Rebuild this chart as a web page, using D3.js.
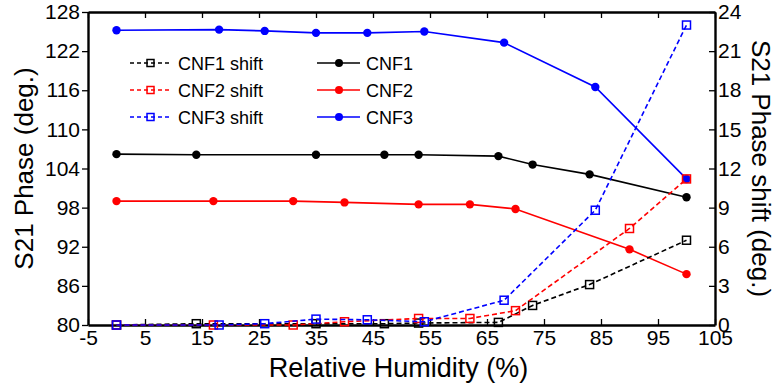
<!DOCTYPE html>
<html>
<head>
<meta charset="utf-8">
<script src="https://cdn.jsdelivr.net/npm/d3@7/dist/d3.min.js"></script>
<style>
  body { margin: 0; background: #fff; }
  text { font-family: "Liberation Sans", Arial, sans-serif; fill: #000; }
</style>
</head>
<body>
<script>
// humidity (%) for each sample
const rh1 = [0, 14, 35, 47, 53, 67, 73, 83, 100];
const rh2 = [0, 17, 31, 40, 53, 62, 70, 90, 100];
const rh3 = [0, 18, 26, 35, 44, 54, 68, 84, 100];

// S21 phase (deg.), left axis
const cnf1 = [106.2, 106.1, 106.1, 106.1, 106.1, 105.9, 104.6, 103.1, 99.6];
const cnf2 = [99.0, 99.0, 99.0, 98.8, 98.5, 98.5, 97.8, 91.6, 87.8];
const cnf3 = [125.2, 125.3, 125.1, 124.8, 124.8, 125.0, 123.3, 116.5, 102.4];

// phase shift (deg.), right axis
const cnf1Shift = [0, 0.1, 0.1, 0.1, 0.15, 0.2, 1.5, 3.1, 6.5];
const cnf2Shift = [0, 0, 0, 0.25, 0.5, 0.5, 1.1, 7.4, 11.2];
const cnf3Shift = [0, 0, 0.1, 0.45, 0.4, 0.25, 1.9, 8.8, 23.0];

const xTicks = [-5, 5, 15, 25, 35, 45, 55, 65, 75, 85, 95, 105];
const yTicks = [80, 86, 92, 98, 104, 110, 116, 122, 128];
const y2Ticks = [0, 3, 6, 9, 12, 15, 18, 21, 24];

const colors = {CNF1: "#000", CNF2: "#ff0000", CNF3: "#0000ff"};

const W = 780, H = 392;
const margin = {top: 12, right: 65, bottom: 67, left: 88};
const width = W - margin.left - margin.right;
const height = H - margin.top - margin.bottom;

const svg = d3.select("body").append("svg")
    .attr("width", W)
    .attr("height", H);

const g = svg.append("g")
    .attr("transform", "translate(" + margin.left + "," + margin.top + ")");

const xScale = d3.scaleLinear().domain([-5, 105]).range([0, width]);
const yScale = d3.scaleLinear().domain([80, 128]).range([height, 0]);
const y2Scale = d3.scaleLinear().domain([0, 24]).range([height, 0]);

// plain hyphen for negatives, like the original
const plain = (d) => String(d);

function styleAxis(sel) {
    sel.selectAll("path").attr("stroke-width", 2.4);
    sel.selectAll("line").attr("stroke-width", 1.3);
    sel.selectAll("text").style("font-size", "21px");
}

// bottom axis, ticks inward
g.append("g")
    .attr("class", "xaxis")
    .attr("transform", "translate(0," + height + ")")
    .call(d3.axisBottom(xScale).tickValues(xTicks).tickFormat(plain)
        .tickSizeInner(-6).tickSizeOuter(0).tickPadding(5))
    .call(styleAxis);

// top frame, ticks inward, no labels
g.append("g")
    .call(d3.axisTop(xScale).tickValues(xTicks).tickSizeInner(-6).tickSizeOuter(0).tickFormat(""))
    .call(styleAxis);

// left axis, ticks outward
g.append("g")
    .attr("class", "yaxis")
    .call(d3.axisLeft(yScale).tickValues(yTicks).tickFormat(plain)
        .tickSizeInner(6).tickSizeOuter(0).tickPadding(2))
    .call(styleAxis);

// right axis, ticks inward
g.append("g")
    .attr("class", "y2axis")
    .attr("transform", "translate(" + width + ",0)")
    .call(d3.axisRight(y2Scale).tickValues(y2Ticks).tickFormat(plain)
        .tickSizeInner(-6).tickSizeOuter(0).tickPadding(3))
    .call(styleAxis);

g.selectAll(".domain").attr("stroke", "#000");

// axis titles
svg.append("text")
    .attr("x", margin.left + width / 2 - 3)
    .attr("y", 377)
    .attr("text-anchor", "middle")
    .style("font-size", "27px")
    .text("Relative Humidity (%)");

svg.append("text")
    .attr("transform", "translate(33," + (margin.top + height / 2) + ") rotate(-90)")
    .attr("text-anchor", "middle")
    .style("font-size", "26px")
    .text("S21 Phase (deg.)");

svg.append("text")
    .attr("transform", "translate(752," + (margin.top + height / 2) + ") rotate(90)")
    .attr("text-anchor", "middle")
    .style("font-size", "26px")
    .text("S21 Phase shift (deg.)");

const phaseSeries = [
    {name: "CNF1", x: rh1, y: cnf1},
    {name: "CNF2", x: rh2, y: cnf2},
    {name: "CNF3", x: rh3, y: cnf3}
];
const shiftSeries = [
    {name: "CNF1", x: rh1, y: cnf1Shift},
    {name: "CNF2", x: rh2, y: cnf2Shift},
    {name: "CNF3", x: rh3, y: cnf3Shift}
];

function pts(s) { return s.x.map((v, i) => [v, s.y[i]]); }

phaseSeries.forEach((s) => {
    const line = d3.line().x((d) => xScale(d[0])).y((d) => yScale(d[1]));
    g.append("path")
        .datum(pts(s))
        .attr("fill", "none")
        .attr("stroke", colors[s.name])
        .attr("stroke-width", 1.6)
        .attr("d", line);
    g.selectAll(null).data(pts(s)).enter().append("circle")
        .attr("cx", (d) => xScale(d[0]))
        .attr("cy", (d) => yScale(d[1]))
        .attr("r", 4.2)
        .attr("fill", colors[s.name]);
});

shiftSeries.forEach((s) => {
    const line = d3.line().x((d) => xScale(d[0])).y((d) => y2Scale(d[1]));
    g.append("path")
        .datum(pts(s))
        .attr("fill", "none")
        .attr("stroke", colors[s.name])
        .attr("stroke-width", 1.6)
        .attr("stroke-dasharray", "5,3")
        .attr("d", line);
    g.selectAll(null).data(pts(s)).enter().append("rect")
        .attr("x", (d) => xScale(d[0]) - 4)
        .attr("y", (d) => y2Scale(d[1]) - 4)
        .attr("width", 8)
        .attr("height", 8)
        .attr("fill", "none")
        .attr("stroke", colors[s.name])
        .attr("stroke-width", 1.5);
});

// legend
const legend = svg.append("g").attr("class", "legend");
const rowsY = [63, 90, 117];

shiftSeries.forEach((s, i) => {
    const y = rowsY[i];
    legend.append("line")
        .attr("x1", 130).attr("x2", 172).attr("y1", y).attr("y2", y)
        .attr("stroke", colors[s.name]).attr("stroke-width", 1.6)
        .attr("stroke-dasharray", "4,3");
    legend.append("rect")
        .attr("x", 147).attr("y", y - 3.5).attr("width", 7).attr("height", 7)
        .attr("fill", "none").attr("stroke", colors[s.name]).attr("stroke-width", 1.5);
    legend.append("text")
        .attr("x", 178).attr("y", y + 6.5)
        .style("font-size", "18px")
        .text(s.name + " shift");
});

phaseSeries.forEach((s, i) => {
    const y = rowsY[i];
    legend.append("line")
        .attr("x1", 317).attr("x2", 360).attr("y1", y).attr("y2", y)
        .attr("stroke", colors[s.name]).attr("stroke-width", 1.6);
    legend.append("circle")
        .attr("cx", 339).attr("cy", y).attr("r", 4)
        .attr("fill", colors[s.name]);
    legend.append("text")
        .attr("x", 366).attr("y", y + 6.5)
        .style("font-size", "18px")
        .text(s.name);
});
</script>
</body>
</html>
